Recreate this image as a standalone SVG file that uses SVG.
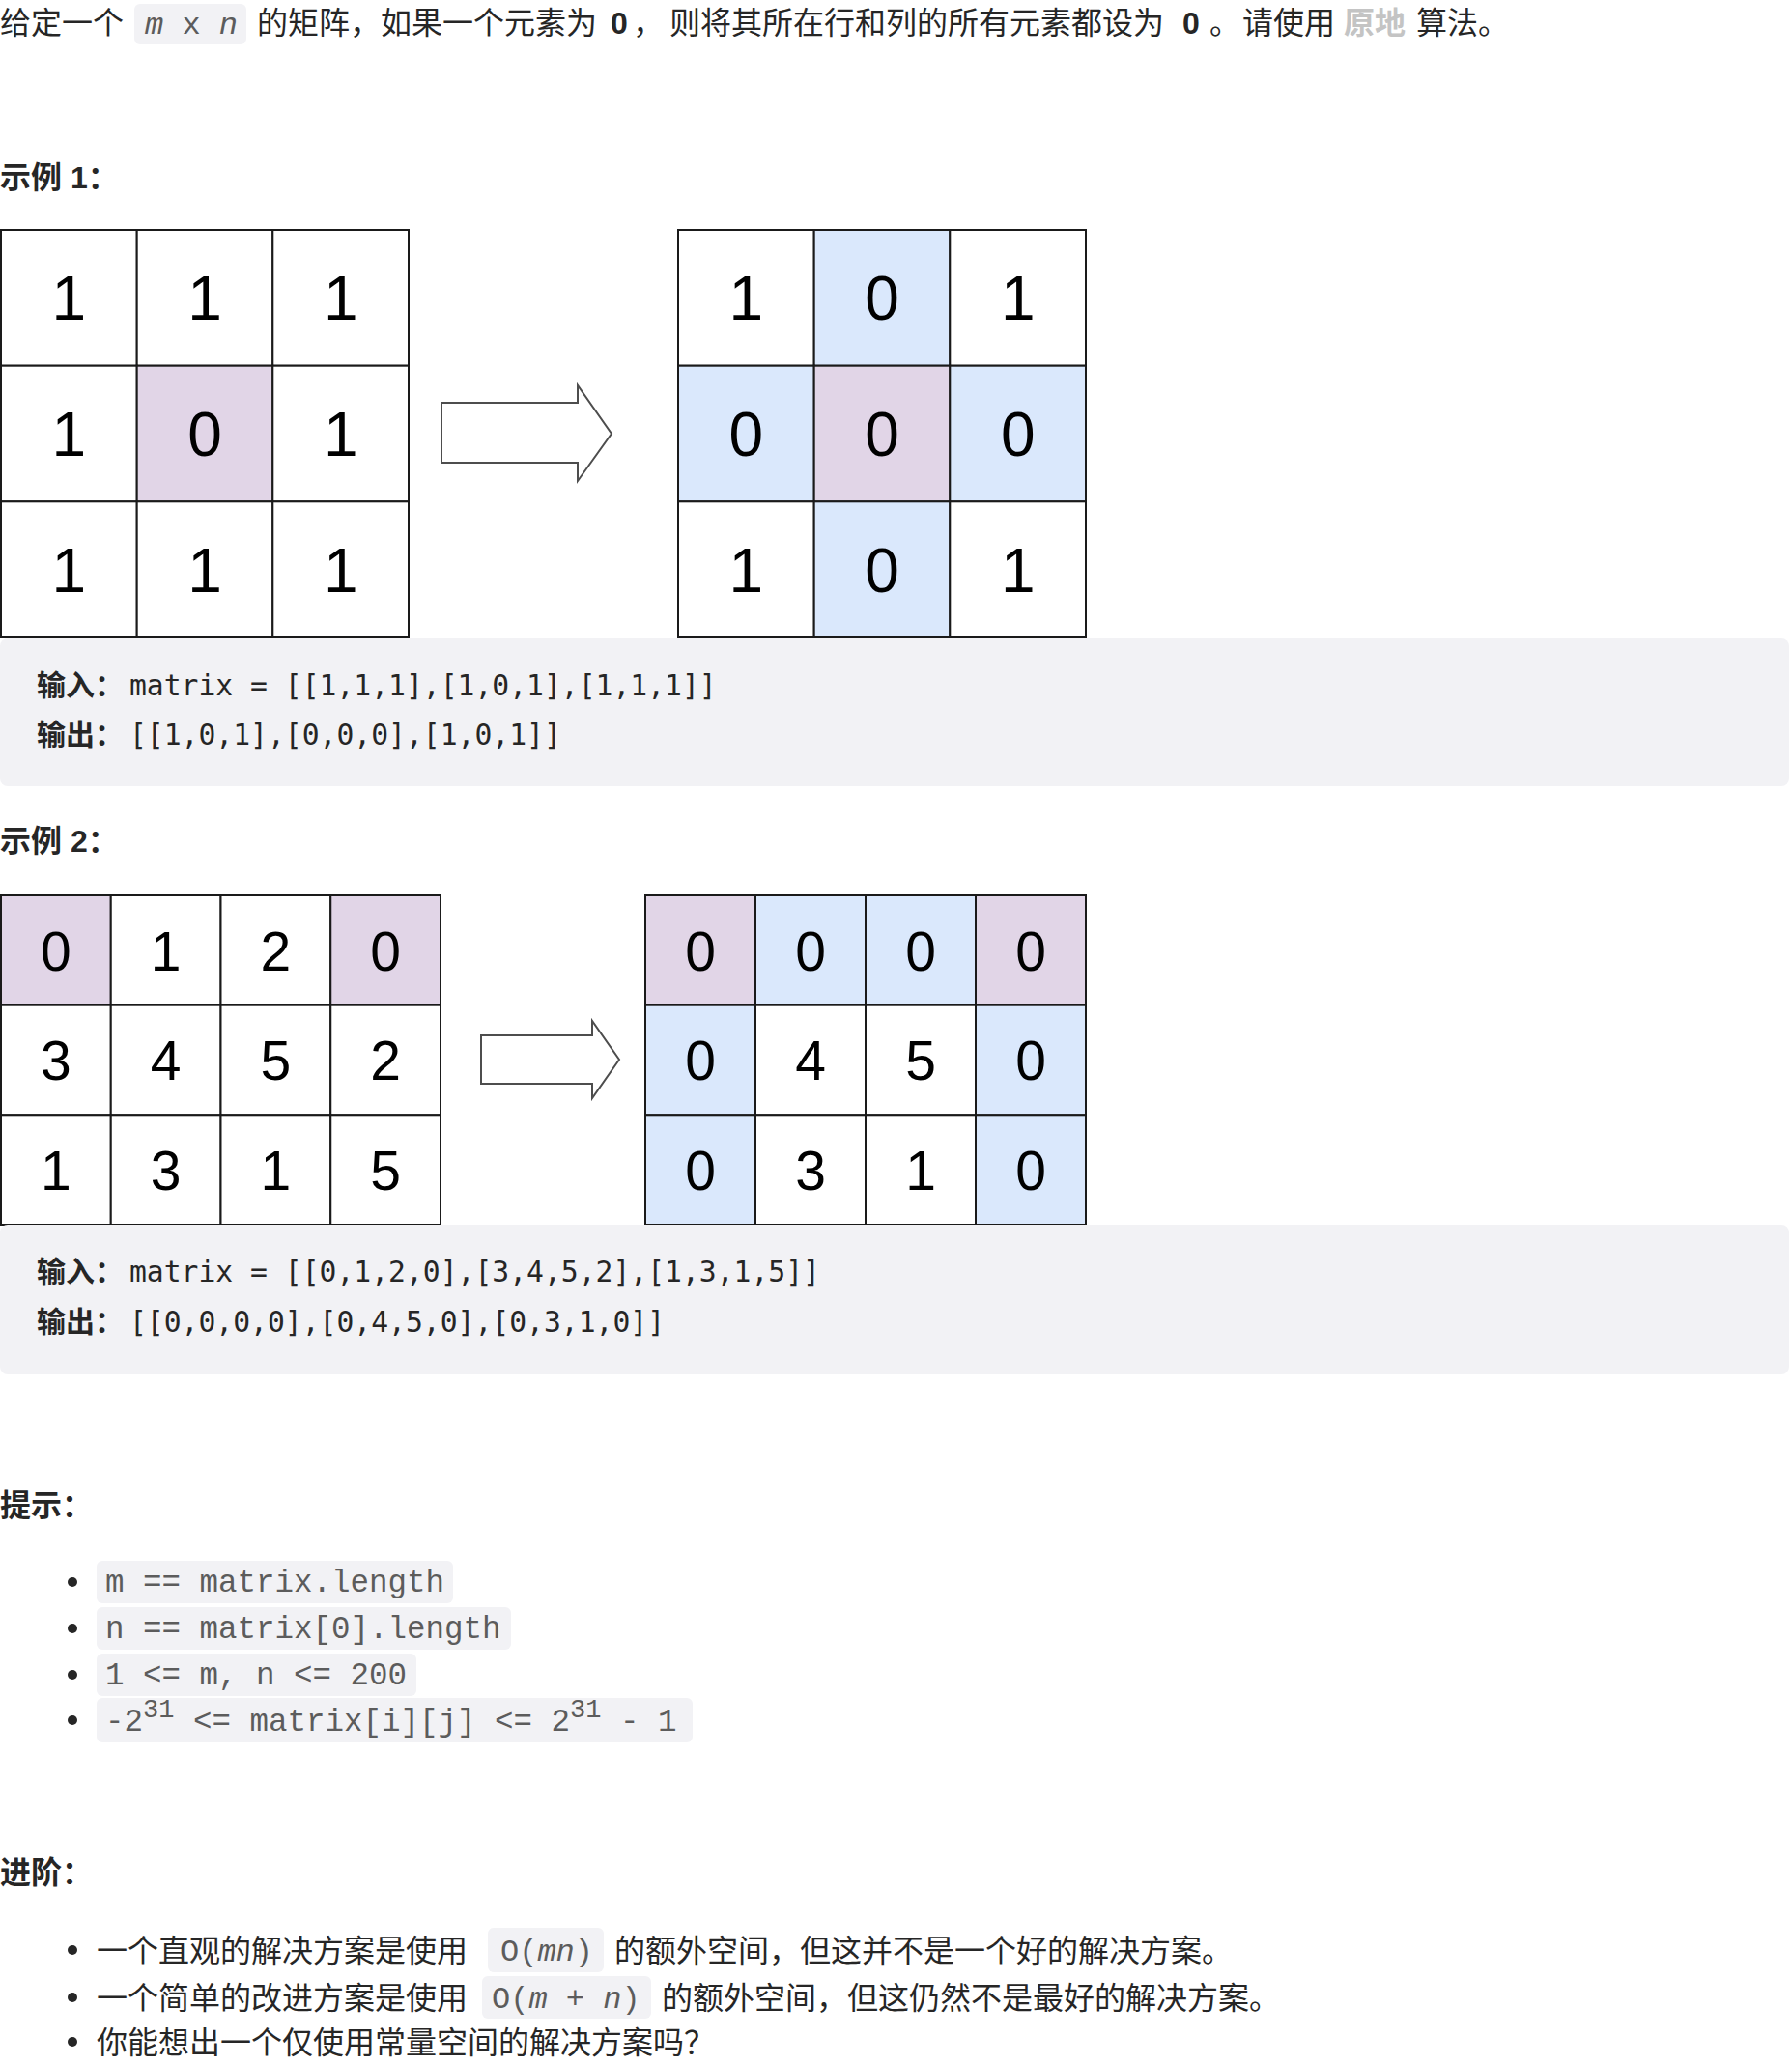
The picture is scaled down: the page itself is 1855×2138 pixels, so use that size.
<svg xmlns="http://www.w3.org/2000/svg" width="1855" height="2138" viewBox="0 0 1855 2138">
<defs>
<style>
.t{font-family:"Liberation Sans","Noto Sans CJK SC",sans-serif;font-size:32px;fill:#262626}
.b{font-weight:700}
.code{font-family:"Liberation Mono","DejaVu Sans Mono",monospace;font-size:32.5px;fill:#5c5c5c}
.icode{font-family:"Liberation Mono","DejaVu Sans Mono",monospace;font-size:32px;fill:#5c5c5c}
.it{font-style:italic}
.pre{font-family:"DejaVu Sans Mono","Liberation Mono",monospace;font-size:29.7px;fill:#262626}
.prel{font-family:"Noto Sans CJK SC",sans-serif;font-size:30px;font-weight:700;fill:#262626}
.cbg{fill:#f2f2f5}
.pbg{fill:#f2f2f5}
.cell{stroke:#1a1a1a;stroke-width:2;fill:#ffffff}
.p{fill:#e1d5e7}
.bl{fill:#dae8fc}
.n1{font-family:"Liberation Sans",Arial,sans-serif;font-size:64px;fill:#000;text-anchor:middle}
.n2{font-family:"Liberation Sans",Arial,sans-serif;font-size:57px;fill:#000;text-anchor:middle}
.arrow{fill:#ffffff;stroke:#4d4d4d;stroke-width:2;stroke-linejoin:miter}
.dot{fill:#262626}
</style>
</defs>
<rect width="1855" height="2138" fill="#ffffff"/>

<g id="intro">
<rect class="cbg" x="139" y="4" width="116" height="42" rx="6"/>
<text class="t" x="0" y="35">给定一个</text>
<text class="icode" x="150" y="35"><tspan class="it">m</tspan> x <tspan class="it">n</tspan></text>
<text class="t" x="266" y="35">的矩阵，如果一个元素为</text>
<text class="t b" x="632" y="35">0</text>
<text class="t" x="655" y="35">，</text>
<text class="t" x="693" y="35">则将其所在行和列的所有元素都设为</text>
<text class="t b" x="1224" y="35">0</text>
<text class="t" x="1252" y="35">。</text>
<text class="t" x="1286" y="35">请使用</text>
<text class="t b" x="1391" y="35" style="fill:#c4c4c4">原地</text>
<text class="t" x="1466" y="35">算法。</text>
</g>

<g id="example1-title"><text class="t b" x="0" y="195">示例 1：</text></g>

<g id="ex1-input-grid">
<rect class="cell" x="1" y="238" width="140.7" height="140.7"/>
<rect class="cell" x="141.7" y="238" width="140.6" height="140.7"/>
<rect class="cell" x="282.3" y="238" width="140.7" height="140.7"/>
<rect class="cell" x="1" y="378.7" width="140.7" height="140.6"/>
<rect class="cell p" x="141.7" y="378.7" width="140.6" height="140.6"/>
<rect class="cell" x="282.3" y="378.7" width="140.7" height="140.6"/>
<rect class="cell" x="1" y="519.3" width="140.7" height="140.7"/>
<rect class="cell" x="141.7" y="519.3" width="140.6" height="140.7"/>
<rect class="cell" x="282.3" y="519.3" width="140.7" height="140.7"/>
<text class="n1" x="71.3" y="331">1</text><text class="n1" x="212" y="331">1</text><text class="n1" x="352.7" y="331">1</text>
<text class="n1" x="71.3" y="472">1</text><text class="n1" x="212" y="472">0</text><text class="n1" x="352.7" y="472">1</text>
<text class="n1" x="71.3" y="613">1</text><text class="n1" x="212" y="613">1</text><text class="n1" x="352.7" y="613">1</text>
</g>

<g id="ex1-output-grid">
<rect class="cell" x="702" y="238" width="140.7" height="140.7"/>
<rect class="cell bl" x="842.7" y="238" width="140.6" height="140.7"/>
<rect class="cell" x="983.3" y="238" width="140.7" height="140.7"/>
<rect class="cell bl" x="702" y="378.7" width="140.7" height="140.6"/>
<rect class="cell p" x="842.7" y="378.7" width="140.6" height="140.6"/>
<rect class="cell bl" x="983.3" y="378.7" width="140.7" height="140.6"/>
<rect class="cell" x="702" y="519.3" width="140.7" height="140.7"/>
<rect class="cell bl" x="842.7" y="519.3" width="140.6" height="140.7"/>
<rect class="cell" x="983.3" y="519.3" width="140.7" height="140.7"/>
<text class="n1" x="772.3" y="331">1</text><text class="n1" x="913" y="331">0</text><text class="n1" x="1053.7" y="331">1</text>
<text class="n1" x="772.3" y="472">0</text><text class="n1" x="913" y="472">0</text><text class="n1" x="1053.7" y="472">0</text>
<text class="n1" x="772.3" y="613">1</text><text class="n1" x="913" y="613">0</text><text class="n1" x="1053.7" y="613">1</text>
</g>

<g id="ex1-io">
<rect class="pbg" x="0" y="661" width="1852" height="153" rx="8"/>
<text class="prel" x="38" y="720">输入：</text>
<text class="pre" x="134" y="720">matrix = [[1,1,1],[1,0,1],[1,1,1]]</text>
<text class="prel" x="38" y="771">输出：</text>
<text class="pre" x="134" y="771">[[1,0,1],[0,0,0],[1,0,1]]</text>
</g>

<g id="example2-title"><text class="t b" x="0" y="882">示例 2：</text></g>

<g id="ex2-input-grid">
<rect class="cell p" x="1" y="927" width="113.75" height="113.7"/>
<rect class="cell" x="114.75" y="927" width="113.75" height="113.7"/>
<rect class="cell" x="228.5" y="927" width="113.75" height="113.7"/>
<rect class="cell p" x="342.25" y="927" width="113.75" height="113.7"/>
<rect class="cell" x="1" y="1040.7" width="113.75" height="113.6"/>
<rect class="cell" x="114.75" y="1040.7" width="113.75" height="113.6"/>
<rect class="cell" x="228.5" y="1040.7" width="113.75" height="113.6"/>
<rect class="cell" x="342.25" y="1040.7" width="113.75" height="113.6"/>
<rect class="cell" x="1" y="1154.3" width="113.75" height="113.7"/>
<rect class="cell" x="114.75" y="1154.3" width="113.75" height="113.7"/>
<rect class="cell" x="228.5" y="1154.3" width="113.75" height="113.7"/>
<rect class="cell" x="342.25" y="1154.3" width="113.75" height="113.7"/>
<text class="n2" x="57.9" y="1004.5">0</text><text class="n2" x="171.6" y="1004.5">1</text><text class="n2" x="285.4" y="1004.5">2</text><text class="n2" x="399.1" y="1004.5">0</text>
<text class="n2" x="57.9" y="1118">3</text><text class="n2" x="171.6" y="1118">4</text><text class="n2" x="285.4" y="1118">5</text><text class="n2" x="399.1" y="1118">2</text>
<text class="n2" x="57.9" y="1231.7">1</text><text class="n2" x="171.6" y="1231.7">3</text><text class="n2" x="285.4" y="1231.7">1</text><text class="n2" x="399.1" y="1231.7">5</text>
</g>

<g id="ex2-output-grid">
<rect class="cell p" x="668" y="927" width="114" height="113.7"/>
<rect class="cell bl" x="782" y="927" width="114" height="113.7"/>
<rect class="cell bl" x="896" y="927" width="114" height="113.7"/>
<rect class="cell p" x="1010" y="927" width="114" height="113.7"/>
<rect class="cell bl" x="668" y="1040.7" width="114" height="113.6"/>
<rect class="cell" x="782" y="1040.7" width="114" height="113.6"/>
<rect class="cell" x="896" y="1040.7" width="114" height="113.6"/>
<rect class="cell bl" x="1010" y="1040.7" width="114" height="113.6"/>
<rect class="cell bl" x="668" y="1154.3" width="114" height="113.7"/>
<rect class="cell" x="782" y="1154.3" width="114" height="113.7"/>
<rect class="cell" x="896" y="1154.3" width="114" height="113.7"/>
<rect class="cell bl" x="1010" y="1154.3" width="114" height="113.7"/>
<text class="n2" x="725" y="1004.5">0</text><text class="n2" x="839" y="1004.5">0</text><text class="n2" x="953" y="1004.5">0</text><text class="n2" x="1067" y="1004.5">0</text>
<text class="n2" x="725" y="1118">0</text><text class="n2" x="839" y="1118">4</text><text class="n2" x="953" y="1118">5</text><text class="n2" x="1067" y="1118">0</text>
<text class="n2" x="725" y="1231.7">0</text><text class="n2" x="839" y="1231.7">3</text><text class="n2" x="953" y="1231.7">1</text><text class="n2" x="1067" y="1231.7">0</text>
</g>

<g id="connectors">
<polygon class="arrow" points="457,417 598,417 598,399 633,449 598,498 598,479 457,479"/>
<polygon class="arrow" points="498,1072 613,1072 613,1057 641,1097 613,1137 613,1122 498,1122"/>
</g>

<g id="ex2-io">
<rect class="pbg" x="0" y="1268" width="1852" height="155" rx="8"/>
<text class="prel" x="38" y="1327">输入：</text>
<text class="pre" x="134" y="1327">matrix = [[0,1,2,0],[3,4,5,2],[1,3,1,5]]</text>
<text class="prel" x="38" y="1379">输出：</text>
<text class="pre" x="134" y="1379">[[0,0,0,0],[0,4,5,0],[0,3,1,0]]</text>
</g>

<g id="hints">
<text class="t b" x="0" y="1570">提示：</text>
<circle class="dot" cx="75" cy="1638" r="5"/>
<rect class="cbg" x="100" y="1616" width="369" height="44" rx="6"/>
<text class="code" x="109" y="1648">m == matrix.length</text>
<circle class="dot" cx="75" cy="1686" r="5"/>
<rect class="cbg" x="100" y="1664" width="429" height="44" rx="6"/>
<text class="code" x="109" y="1696">n == matrix[0].length</text>
<circle class="dot" cx="75" cy="1734" r="5"/>
<rect class="cbg" x="100" y="1712" width="331" height="44" rx="6"/>
<text class="code" x="109" y="1744">1 &lt;= m, n &lt;= 200</text>
<circle class="dot" cx="75" cy="1781" r="5"/>
<rect class="cbg" x="100" y="1758" width="617" height="46" rx="6"/>
<text class="code" x="109" y="1792">-2<tspan dy="-14" font-size="27">31</tspan><tspan dy="14"> &lt;= matrix[i][j] &lt;= 2</tspan><tspan dy="-14" font-size="27">31</tspan><tspan dy="14"> - 1</tspan></text>
</g>

<g id="follow-up">
<text class="t b" x="0" y="1950">进阶：</text>
<circle class="dot" cx="75" cy="2019" r="5"/>
<text class="t" x="100" y="2031">一个直观的解决方案是使用</text>
<rect class="cbg" x="505" y="1996" width="120" height="46" rx="6"/>
<text class="icode" x="518" y="2030">O(<tspan class="it">mn</tspan>)</text>
<text class="t" x="636" y="2031">的额外空间，但这并不是一个好的解决方案。</text>
<circle class="dot" cx="75" cy="2068" r="5"/>
<text class="t" x="100" y="2080">一个简单的改进方案是使用</text>
<rect class="cbg" x="499" y="2046" width="175" height="44" rx="6"/>
<text class="icode" x="509" y="2079">O(<tspan class="it">m</tspan> + <tspan class="it">n</tspan>)</text>
<text class="t" x="685" y="2080">的额外空间，但这仍然不是最好的解决方案。</text>
<circle class="dot" cx="75" cy="2114" r="5"/>
<text class="t" x="100" y="2126">你能想出一个仅使用常量空间的解决方案吗？</text>
</g>
</svg>
